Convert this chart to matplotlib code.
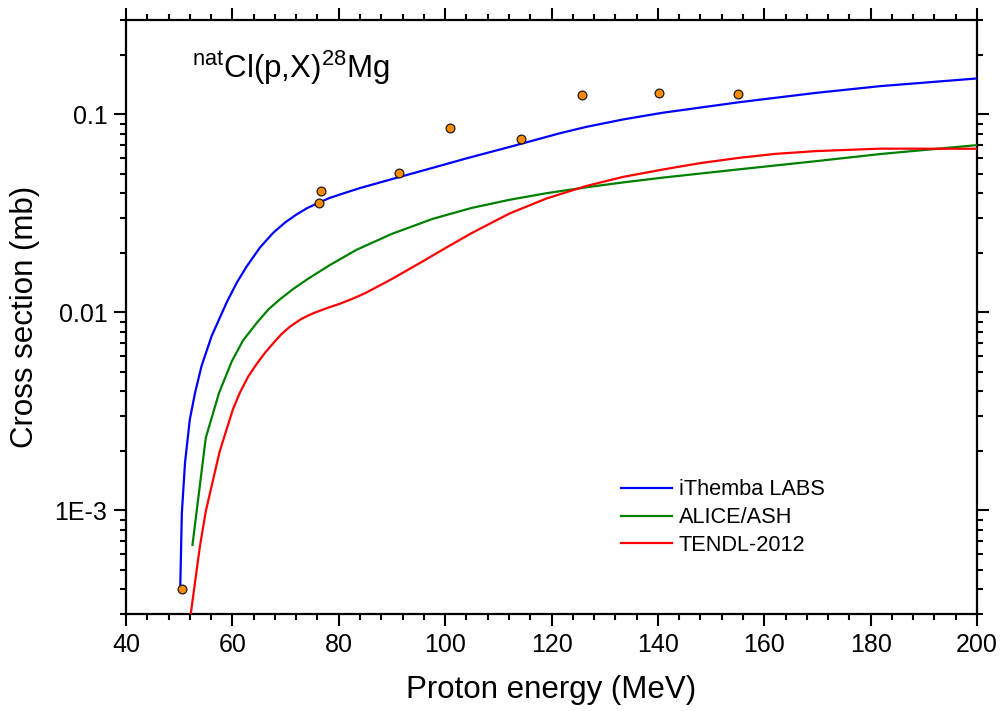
import matplotlib
matplotlib.use("Agg")
import matplotlib.pyplot as plt
from matplotlib.ticker import FixedLocator, FixedFormatter, MultipleLocator, LogLocator, NullFormatter

plt.rcParams['font.family'] = ['Liberation Sans', 'DejaVu Sans']
plt.rcParams['mathtext.fontset'] = 'custom'
plt.rcParams['mathtext.rm'] = 'Liberation Sans'
plt.rcParams['mathtext.it'] = 'Liberation Sans'

# Experimental cross sections (MeV, mb)
exp_energy = [50.5, 76.2, 76.7, 91.4, 100.9, 114.3, 125.7, 140.3, 155.1]
exp_xs = [4.0e-4, 0.0358, 0.0412, 0.0509, 0.0850, 0.0756, 0.1247, 0.128, 0.127]

# iThemba LABS evaluation
ithemba_energy = [50.2, 50.5, 51.1, 52.0, 53.0, 54.2, 56.1, 58.9, 60.8, 62.7, 65.2,
                  67.7, 70.0, 72.1, 74.1, 76.2, 78.2, 80.2, 84.0, 91.4, 97.7, 104.0,
                  112.0, 121.6, 126.5, 133.5, 140.9, 155.3, 169.7, 181.8, 200.0]
ithemba_xs = [4.1e-4, 9.7e-4, 1.75e-3, 2.88e-3, 3.95e-3, 5.36e-3, 7.6e-3, 0.0112,
              0.0141, 0.0171, 0.0213, 0.0253, 0.0286, 0.0313, 0.0337, 0.0358, 0.0378,
              0.0394, 0.0425, 0.0483, 0.0538, 0.0600, 0.0684, 0.0804, 0.0865, 0.0944,
              0.102, 0.1153, 0.1285, 0.139, 0.152]

# ALICE/ASH calculation
alice_energy = [52.5, 55.0, 57.5, 59.9, 62.0, 64.6, 66.8, 69.0, 71.5, 74.0, 78.3,
                83.3, 90.0, 97.7, 105.0, 112.1, 119.0, 126.5, 133.5, 140.9, 155.3,
                169.7, 181.8, 200.0]
alice_xs = [6.7e-4, 2.33e-3, 3.93e-3, 5.67e-3, 7.22e-3, 8.87e-3, 0.01038, 0.01169,
            0.01318, 0.01466, 0.01734, 0.0207, 0.02495, 0.02972, 0.03373, 0.03707,
            0.03999, 0.04285, 0.04539, 0.04797, 0.05284, 0.05808, 0.0631, 0.070]

# TENDL-2012 library
tendl_energy = [52.1, 53.9, 55.0, 56.4, 57.6, 58.9, 60.1, 61.4, 63.0, 64.6, 66.1,
                67.7, 69.2, 70.8, 73.0, 75.2, 77.7, 80.2, 82.5, 85.0, 90.0, 95.6,
                100.0, 104.9, 112.1, 119.0, 126.5, 133.5, 140.9, 148.0, 155.3,
                162.0, 169.7, 181.8, 200.0]
tendl_xs = [2.9e-4, 6.6e-4, 9.9e-4, 1.44e-3, 1.98e-3, 2.56e-3, 3.24e-3, 3.93e-3,
            4.76e-3, 5.51e-3, 6.24e-3, 7.00e-3, 7.76e-3, 8.47e-3, 9.29e-3, 9.91e-3,
            0.0105, 0.01107, 0.0117, 0.01253, 0.01476, 0.0180, 0.0211, 0.0251,
            0.0316, 0.0376, 0.0435, 0.0484, 0.0527, 0.0568, 0.0604, 0.0632, 0.0653,
            0.0672, 0.0671]

y_ticks = [1e-3, 1e-2, 1e-1]
y_tick_labels = ["1E-3", "0.01", "0.1"]

fig = plt.figure(figsize=(10, 7.11), dpi=100)
ax = fig.add_axes([0.126, 0.1364, 0.851, 0.8355])

lw = 1.6
ax.plot(ithemba_energy, ithemba_xs, color='#0000FF', lw=lw, label='iThemba LABS', zorder=3)
ax.plot(alice_energy, alice_xs, color='#008000', lw=lw, label='ALICE/ASH', zorder=3)
ax.plot(tendl_energy, tendl_xs, color='#FF0000', lw=lw, label='TENDL-2012', zorder=3)
ax.plot(exp_energy, exp_xs, linestyle='none', marker='o', ms=6.3,
        mfc='#FF8C00', mec='#1a1a1a', mew=0.9, zorder=4)

ax.set_yscale('log')
ax.set_xlim(40, 200)
ax.set_ylim(3e-4, 0.3)

ax.xaxis.set_major_locator(MultipleLocator(20))
ax.xaxis.set_minor_locator(MultipleLocator(4))
ax.yaxis.set_major_locator(FixedLocator(y_ticks))
ax.yaxis.set_major_formatter(FixedFormatter(y_tick_labels))
ax.yaxis.set_minor_locator(LogLocator(base=10, subs=range(2, 10)))
ax.yaxis.set_minor_formatter(NullFormatter())

ax.tick_params(which='both', direction='out', top=True, right=True, width=1.5,
               labelsize=18, colors='black')
ax.tick_params(which='major', length=8.5, pad=5)
ax.tick_params(which='minor', length=4.5)
for s in ax.spines.values():
    s.set_linewidth(1.6)

ax.set_xlabel('Proton energy (MeV)', fontsize=22.5, labelpad=13)
ax.set_ylabel('Cross section (mb)', fontsize=22.5, labelpad=10)

ax.text(0.077, 0.902, r'$^{\mathrm{nat}}$Cl(p,X)$^{\mathrm{28}}$Mg', transform=ax.transAxes,
        fontsize=22.5, ha='left', va='baseline')

ax.legend(loc='upper left', bbox_to_anchor=(0.5688, 0.245), frameon=False, fontsize=15.7,
          handlelength=2.34, handletextpad=0.32, labelspacing=0.31, borderpad=0)

fig.savefig('out.png', dpi=100)
